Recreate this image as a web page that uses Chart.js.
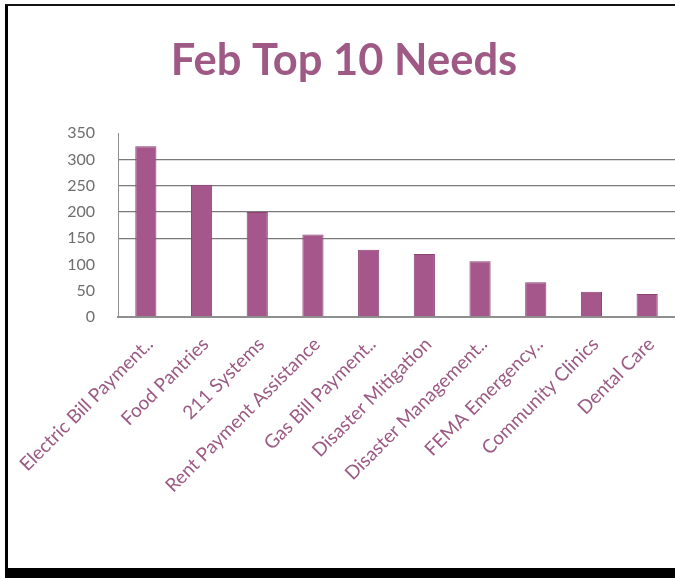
<!DOCTYPE html>
<html>
<head>
<meta charset="utf-8">
<title>Feb Top 10 Needs</title>
<script src="https://cdn.jsdelivr.net/npm/chart.js@4.4.1/dist/chart.umd.min.js"></script>
<style>
  html, body { margin: 0; padding: 0; background: #fff; }
  #stage { position: relative; width: 675px; height: 578px; overflow: hidden; background: #fff; }
  #frame {
    position: absolute; left: 5px; top: 4px; width: 700px; height: 574px;
    box-sizing: border-box;
    border-left: 3px solid #000; border-top: 2px solid #151515; border-bottom: 10px solid #000;
  }
  #chart { position: absolute; left: 0; top: 0; }
</style>
</head>
<body>
<div id="stage">
  <div id="frame"></div>
  <canvas id="chart" width="675" height="578"></canvas>
</div>
<script>
// Service categories and request counts for February
const categories = [
  'Electric Bill Payment..',
  'Food Pantries',
  '211 Systems',
  'Rent Payment Assistance',
  'Gas Bill Payment..',
  'Disaster Mitigation',
  'Disaster Management..',
  'FEMA Emergency..',
  'Community Clinics',
  'Dental Care'
];
const needCounts = [325, 252, 200, 157, 128, 120, 106, 66, 48, 44];

// Value axis range and the levels that carry a gridline
const yMin = 0;
const yMax = 350;
const yStep = 50;
const gridValues = [150, 200, 250, 300];

const chartTitle = 'Feb Top 10 Needs';

new Chart(document.getElementById('chart'), {
  type: 'bar',
  data: {
    labels: categories,
    datasets: [{
      data: needCounts,
      backgroundColor: '#a5568a',
      borderColor: '#8a4271',
      borderWidth: 1,
      barPercentage: 0.38,
      categoryPercentage: 1
    }]
  },
  options: {
    responsive: false,
    animation: false,
    devicePixelRatio: 1,
    layout: { padding: { left: 13, right: 0, top: 0, bottom: 0 } },
    plugins: {
      legend: { display: false },
      tooltip: { enabled: false },
      title: {
        display: true,
        text: chartTitle,
        color: '#9e5a85',
        font: { family: 'Lato', size: 43.5, weight: 'bold' },
        padding: { top: 35, bottom: 46 }
      }
    },
    scales: {
      x: {
        grid: { display: false, drawTicks: false },
        border: { display: true, color: '#8f8f8f', width: 2 },
        ticks: {
          color: '#9b5a84',
          font: { family: 'Lato', size: 19 },
          minRotation: 45,
          maxRotation: 45,
          autoSkip: false,
          padding: 16,
          labelOffset: 4
        },
        afterFit(scale) {
          scale.height = 261;
          scale.paddingLeft = 0;
          scale.paddingRight = 0;
        }
      },
      y: {
        min: yMin,
        max: yMax,
        ticks: {
          stepSize: yStep,
          color: '#6e6e6e',
          font: { family: 'Lato', size: 16 },
          padding: 23
        },
        grid: {
          drawTicks: false,
          lineWidth: 1.3,
          color: (ctx) => (ctx.tick && gridValues.includes(ctx.tick.value)) ? '#7a7a7a' : 'rgba(0,0,0,0)'
        },
        border: { display: true, color: '#8f8f8f', width: 1 },
        afterFit(scale) {
          scale.width = 105;
        }
      }
    }
  }
});
</script>
</body>
</html>
